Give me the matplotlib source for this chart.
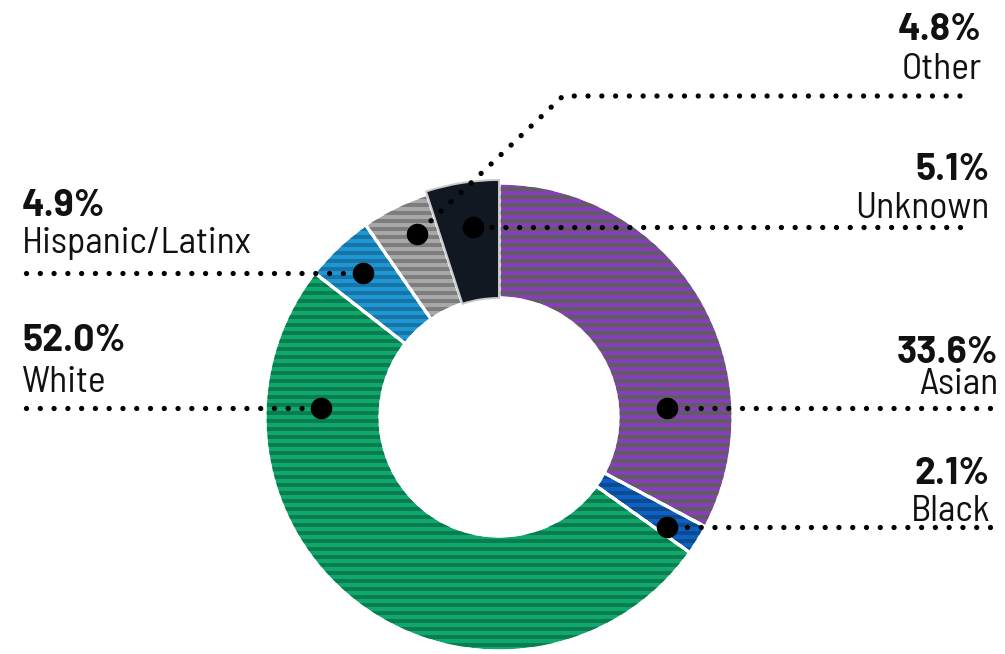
import matplotlib
matplotlib.use("Agg")
import matplotlib.pyplot as plt
from matplotlib.collections import PolyCollection
from matplotlib.patches import Wedge

# Data
groups = ["Asian", "Black", "White", "Hispanic/Latinx", "Other", "Unknown"]
shares = [33.6, 2.1, 52.0, 4.9, 4.8, 5.1]

# Fill colours: (base, stripe)
base_colors = ["#8a3cbf", "#0b62c4", "#0fa86c", "#1c97d4", "#a8a8a8", "#111821"]
stripe_colors = ["#5e5e5e", "#0d4b8c", "#0b7c4f", "#1a73a5", "#7d7d7d", None]

W, H = 1005, 654
plt.rcParams["font.family"] = ["Barlow Semi Condensed", "Barlow Condensed",
                               "Archivo Narrow", "DejaVu Sans"]
value_family = ["Barlow", "Barlow Semi Condensed", "DejaVu Sans"]
fig = plt.figure(figsize=(W / 100, H / 100), dpi=100)
ax = fig.add_axes([0, 0, 1, 1])

cx, cy, r_out, r_in = 499, 417, 234, 119

wedges, _ = ax.pie(
    shares,
    center=(cx, cy),
    radius=r_out,
    startangle=270,
    counterclock=True,
    colors=base_colors,
    wedgeprops=dict(width=r_out - r_in, edgecolor="white", linewidth=2.2),
)
ax.set_xlim(0, W)
ax.set_ylim(H, 0)
ax.set_aspect("equal")
ax.axis("off")

# The "Unknown" slice sits slightly proud of the ring with a grey rim
uw = wedges[5]
uw.set_radius(r_out + 3)
uw.set_width(r_out - r_in + 3)
uw.set_edgecolor("#c9c9c9")
uw.set_linewidth(1.4)
uw.set_zorder(3)

# Horizontal stripe pattern clipped to each wedge
period, thick = 8, 4
for w, sc in zip(wedges, stripe_colors):
    if sc is None:
        continue
    polys = []
    y = 3
    while y < H:
        polys.append([(0, y), (W, y), (W, y + thick), (0, y + thick)])
        y += period
    pc = PolyCollection(polys, facecolors=sc, edgecolors="none",
                        antialiased=False, zorder=w.get_zorder() + 0.1)
    ax.add_collection(pc)
    pc.set_clip_path(w)
    # redraw the separator on top of the stripes
    ax.add_patch(Wedge(
        w.center, w.r, w.theta1, w.theta2, width=w.width,
        facecolor="none", edgecolor="white", linewidth=2.2, zorder=w.get_zorder() + 0.2))

dot_kw = dict(color="black", linewidth=3.8, linestyle=(0, (0.01, 2.6)),
              dash_capstyle="round", solid_capstyle="round", zorder=5)
big_kw = dict(marker="o", markersize=14.5, color="black", linestyle="none", zorder=6)

# Leader lines: anchor point on the slice, then the path out to the label
leaders = {
    "Asian": [(667, 408), (990, 408)],
    "Black": [(667, 527), (990, 527)],
    "White": [(321, 408), (26, 408)],
    "Hispanic/Latinx": [(363, 273), (26, 273)],
    "Other": [(417, 234), (563, 96), (960, 96)],
    "Unknown": [(473, 227), (960, 227)],
}
for g in groups:
    pts = leaders[g]
    # dotted pattern starts at the label end so the outer dot lands on it
    xs = [p[0] for p in pts][::-1]
    ys = [p[1] for p in pts][::-1]
    ax.plot(xs, ys, **dot_kw)
    ax.plot(pts[0][0], pts[0][1], **big_kw)

# Labels: (x, value baseline, name baseline, alignment)
label_pos = {
    "Other": (982, 40, 79, "right"),
    "Unknown": (990, 180, 218, "right"),
    "Asian": (998, 363, 394, "right"),
    "Black": (990, 484, 521, "right"),
    "Hispanic/Latinx": (22, 216, 253, "left"),
    "White": (22, 351, 392, "left"),
}
for g, v in zip(groups, shares):
    x, yv, yn, ha = label_pos[g]
    ax.text(x, yv, f"{v:.1f}%", ha=ha, va="baseline", fontsize=27,
            fontweight="bold", family=value_family, color="#111111", zorder=7)
    ax.text(x, yn, g, ha=ha, va="baseline", fontsize=27, color="#111111", zorder=7)

fig.savefig("out.png", dpi=100)
